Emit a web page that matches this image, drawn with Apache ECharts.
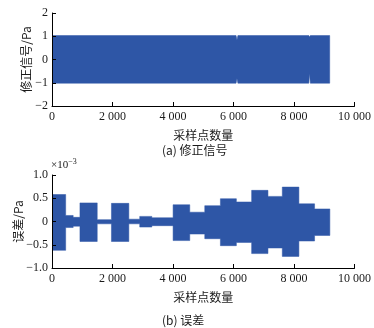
<!DOCTYPE html>
<html>
<head>
<meta charset="utf-8">
<script src="https://cdn.jsdelivr.net/npm/echarts@6/dist/echarts.min.js"></script>
<style>
  html, body { margin: 0; padding: 0; background: #fff; }
  #chart { width: 374px; height: 328px; }
</style>
</head>
<body>
<div id="chart"></div>
<script>
// (a) corrected signal: envelope of the oscillation, breakpoints along the sample axis
const sigX     = [0, 6085, 6115, 6145, 8490, 8515, 8540, 9180];
const sigUpper = [1.03, 1.03, 0.84, 1.03, 1.03, 0.97, 1.03, 1.03];
const sigLower = [-1.02, -1.02, -0.82, -1.02, -1.02, -0.60, -1.02, -1.02];

// (b) error (×10^-3 Pa): piecewise envelope segments
const errStart = [0, 452, 700, 924, 1495, 1965, 2540, 2900, 3300, 4003, 4554, 5050, 5567, 6095, 6600, 7139, 7613, 8162, 8680];
const errEnd   = [452, 700, 924, 1495, 1965, 2540, 2900, 3300, 4003, 4554, 5050, 5567, 6095, 6600, 7139, 7613, 8162, 8680, 9185];
const errUpper = [0.58, 0.13, 0.09, 0.40, 0.04, 0.39, 0.05, 0.11, 0.08, 0.36, 0.20, 0.34, 0.49, 0.42, 0.67, 0.54, 0.74, 0.38, 0.27];
const errLower = [-0.62, -0.13, -0.10, -0.43, -0.05, -0.43, -0.05, -0.12, -0.09, -0.41, -0.27, -0.37, -0.52, -0.45, -0.69, -0.57, -0.75, -0.42, -0.30];

// axis tick labels
const xTicks = [0, 2000, 4000, 6000, 8000, 10000];
const sigTicks = [-2, -1, 0, 1, 2];
const errTicks = [-1.0, -0.5, 0, 0.5, 1.0];

const BLUE = '#2e56a6';
const SERIF = '"Liberation Serif", "Times New Roman", "DejaVu Serif", serif';
const CJK = '"Noto Sans CJK SC", "Liberation Serif", serif';
const TEXT = '#1a1a1a';

// band rows [x, upper, lower]; the error band is stepped, so each segment gives two rows
const sigRows = sigX.map((x, i) => [x, sigUpper[i], sigLower[i]]);
const errRows = [];
errStart.forEach((s, i) => {
  errRows.push([s, errUpper[i], errLower[i]], [errEnd[i], errUpper[i], errLower[i]]);
});

const fmtX = v => {
  const s = String(Math.round(v));
  return s.length > 3 ? s.slice(0, s.length - 3) + ' ' + s.slice(-3) : s;
};
const minus = s => s.replace('-', '\u2212');

function xAxisCfg(gridIndex) {
  return {
    type: 'value', gridIndex, min: xTicks[0], max: xTicks[xTicks.length - 1],
    interval: xTicks[1] - xTicks[0],
    name: '采样点数量', nameLocation: 'middle', nameGap: 23, nameMoveOverlap: false,
    nameTextStyle: { fontFamily: CJK, fontSize: 12, color: TEXT },
    axisLine: { onZero: false, lineStyle: { color: '#000', width: 1 } },
    axisTick: { inside: true, length: 4, lineStyle: { color: '#000' } },
    axisLabel: { formatter: fmtX, fontFamily: SERIF, fontSize: 12, color: TEXT, margin: 5 },
    splitLine: { show: false },
    z: 5
  };
}

function yAxisCfg(gridIndex, ticks, name, fmt, gap) {
  return {
    type: 'value', gridIndex, min: ticks[0], max: ticks[ticks.length - 1],
    interval: ticks[1] - ticks[0],
    name, nameLocation: 'middle', nameGap: gap, nameRotate: 90, nameMoveOverlap: false,
    nameTextStyle: { fontFamily: CJK, fontSize: 12, color: TEXT },
    axisLine: { show: true, onZero: false, lineStyle: { color: '#000', width: 1 } },
    axisTick: { show: true, inside: true, length: 4, lineStyle: { color: '#000' } },
    axisLabel: { formatter: fmt, fontFamily: SERIF, fontSize: 12, color: TEXT, margin: 4 },
    splitLine: { show: false },
    z: 5
  };
}

// the band is one closed outline: along the upper envelope, then back along the lower one
function bandSeries(xi, yi, rows) {
  return {
    type: 'custom', xAxisIndex: xi, yAxisIndex: yi,
    data: rows, encode: { x: 0, y: [1, 2] },
    animation: false, silent: true, clip: true,
    renderItem(params, api) {
      if (params.dataIndex !== 0) return null;
      const top = rows.map(r => api.coord([r[0], r[1]]));
      const bottom = rows.map(r => api.coord([r[0], r[2]])).reverse();
      return {
        type: 'polygon',
        shape: { points: top.concat(bottom) },
        style: { fill: BLUE, stroke: BLUE, lineWidth: 0.5 }
      };
    }
  };
}

const chart = echarts.init(document.getElementById('chart'), null, { renderer: 'canvas' });
chart.setOption({
  backgroundColor: '#fff',
  animation: false,
  grid: [
    { left: 52, top: 13, width: 303, height: 93, containLabel: false },
    { left: 52, top: 175, width: 303, height: 93, containLabel: false }
  ],
  xAxis: [xAxisCfg(0), xAxisCfg(1)],
  yAxis: [
    yAxisCfg(0, sigTicks, '修正信号/Pa', v => minus(String(v)), 20),
    yAxisCfg(1, errTicks, '误差/Pa', v => v === 0 ? '0' : minus(v.toFixed(1)), 28)
  ],
  series: [bandSeries(0, 0, sigRows), bandSeries(1, 1, errRows)],
  graphic: [
    {
      type: 'text', left: 51, top: 158,
      style: {
        text: '{a|×10}{b|\u22123}',
        rich: {
          a: { fontFamily: SERIF, fontSize: 11, fill: TEXT },
          b: { fontFamily: SERIF, fontSize: 8, fill: TEXT, verticalAlign: 'top', padding: [0, 0, 6, 0] }
        }
      }
    },
    {
      type: 'text', left: 162, top: 144,
      style: { text: '(a) 修正信号', fontFamily: CJK, fontSize: 12, fill: TEXT }
    },
    {
      type: 'text', left: 162, top: 314,
      style: { text: '(b) 误差', fontFamily: CJK, fontSize: 12, fill: TEXT }
    }
  ]
});
</script>
</body>
</html>
